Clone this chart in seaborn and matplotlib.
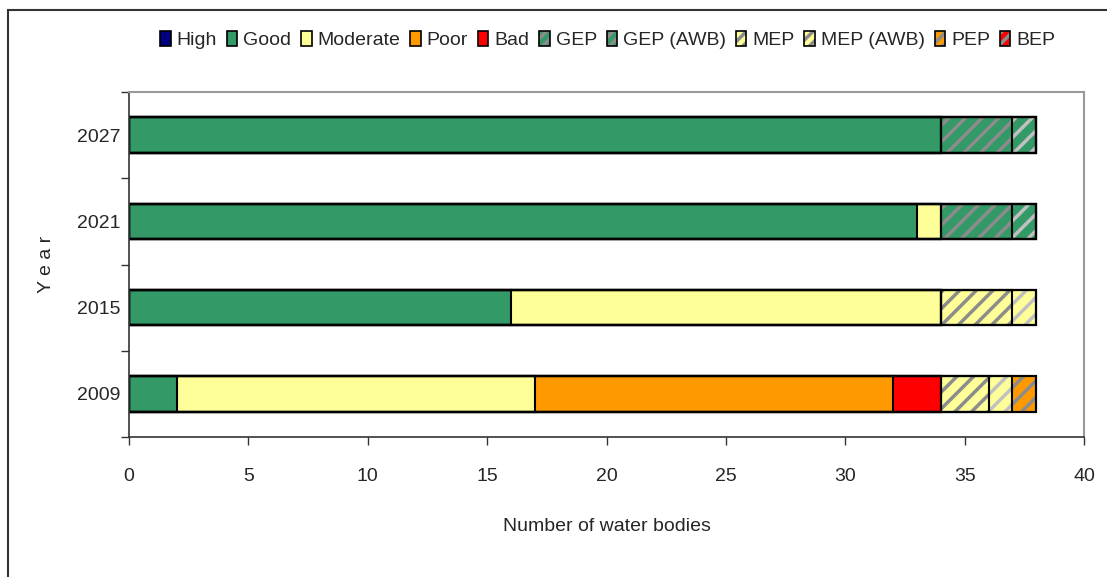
import numpy as np
import pandas as pd
import matplotlib
matplotlib.use('Agg')
import matplotlib.pyplot as plt
import seaborn as sns
from matplotlib.patches import Patch, Rectangle

# data
years = ['2027', '2021', '2015', '2009']
categories = ['High', 'Good', 'Moderate', 'Poor', 'Bad',
              'GEP', 'GEP (AWB)', 'MEP', 'MEP (AWB)', 'PEP', 'BEP']
high = [0, 0, 0, 0]
good = [34, 33, 16, 2]
moderate = [0, 1, 18, 15]
poor = [0, 0, 0, 15]
bad = [0, 0, 0, 2]
gep = [3, 3, 0, 0]
gep_awb = [1, 1, 0, 0]
mep = [0, 0, 3, 2]
mep_awb = [0, 0, 1, 1]
pep = [0, 0, 0, 1]
bep = [0, 0, 0, 0]

fills = ['#000080', '#339966', '#FFFF99', '#FF9900', '#FF0000',
         '#339966', '#339966', '#FFFF99', '#FFFF99', '#FF9900', '#FF0000']
hatch_cols = [None, None, None, None, None,
              '#8c8c8c', '#c0c0c0', '#8c8c8c', '#c0c0c0', '#8c8c8c', '#8c8c8c']

df = pd.DataFrame({'Year': years})
for name, vals in zip(categories, [high, good, moderate, poor, bad, gep, gep_awb,
                                   mep, mep_awb, pep, bep]):
    df[name] = vals
cum = df[categories].cumsum(axis=1)

sns.set_style('white')
plt.rcParams['font.family'] = ['Liberation Sans', 'DejaVu Sans']
plt.rcParams['hatch.linewidth'] = 2.5

fig = plt.figure(figsize=(11.07, 5.77), dpi=100)
ax = fig.add_axes([129 / 1107, 1 - 437 / 577, (1084 - 129) / 1107, (437 - 92) / 577])

bw = 0.41
# fills, drawn from the full length down so each segment covers the previous ones
for i in range(len(categories) - 1, -1, -1):
    name = categories[i]
    tmp = pd.DataFrame({'Year': years, 'val': cum[name]})
    if hatch_cols[i] is None:
        sns.barplot(data=tmp, x='val', y='Year', order=years, color=fills[i],
                    width=bw, linewidth=0, saturation=1, ax=ax, errorbar=None)
    else:
        sns.barplot(data=tmp, x='val', y='Year', order=years, color=fills[i],
                    width=bw, linewidth=0, saturation=1, ax=ax, errorbar=None,
                    hatch='//', edgecolor=hatch_cols[i])

# black outlines for the segments
for name in categories:
    tmp = pd.DataFrame({'Year': years, 'val': cum[name]})
    tmp = tmp[tmp['val'] > 0]
    sns.barplot(data=tmp, x='val', y='Year', order=years, fill=False, color='black',
                width=bw, linewidth=1.5, ax=ax, errorbar=None)

ax.set_xlim(0, 40)
ax.set_ylim(3.5, -0.5)
ax.set_xticks(range(0, 41, 5))
ax.set_yticks(range(4))
ax.set_yticklabels(years)
ax.set_yticks(np.arange(-0.5, 4.0, 1.0), minor=True)
ax.tick_params(axis='y', which='major', length=0, pad=6, labelsize=14)
ax.tick_params(axis='y', which='minor', length=6, width=1, color='#333333', left=True)
ax.tick_params(axis='x', length=6, width=1, color='#333333', bottom=True,
               labelsize=14, pad=16)
ax.set_xlabel('Number of water bodies', fontsize=14, labelpad=24)
ax.set_ylabel('Y e a r', fontsize=14, labelpad=16)

for s in ['top', 'right']:
    ax.spines[s].set_color('#999999')
    ax.spines[s].set_linewidth(1.5)
for s in ['left', 'bottom']:
    ax.spines[s].set_color('#333333')
    ax.spines[s].set_linewidth(1.2)

handles = []
for i, name in enumerate(categories):
    if hatch_cols[i] is None:
        handles.append(Patch(facecolor=fills[i], edgecolor='black', linewidth=1.2))
    else:
        handles.append((Patch(facecolor=fills[i], edgecolor='#8c8c8c', linewidth=0,
                              hatch='///'),
                        Patch(fill=False, edgecolor='black', linewidth=1.2)))
fig.legend(handles, categories, loc='center', bbox_to_anchor=(0.549, 1 - 40 / 577),
           ncol=11, frameon=False, fontsize=14, handlelength=0.55, handleheight=0.8,
           handletextpad=0.3, columnspacing=0.5)

# outer chart frame (cut off at right and bottom)
fig.patches.append(Rectangle((8 / 1107, -0.1), 1.2, 1.1 - 10 / 577,
                             transform=fig.transFigure, fill=False,
                             edgecolor='#333333', linewidth=1.5))

fig.savefig('out.png', dpi=100)
